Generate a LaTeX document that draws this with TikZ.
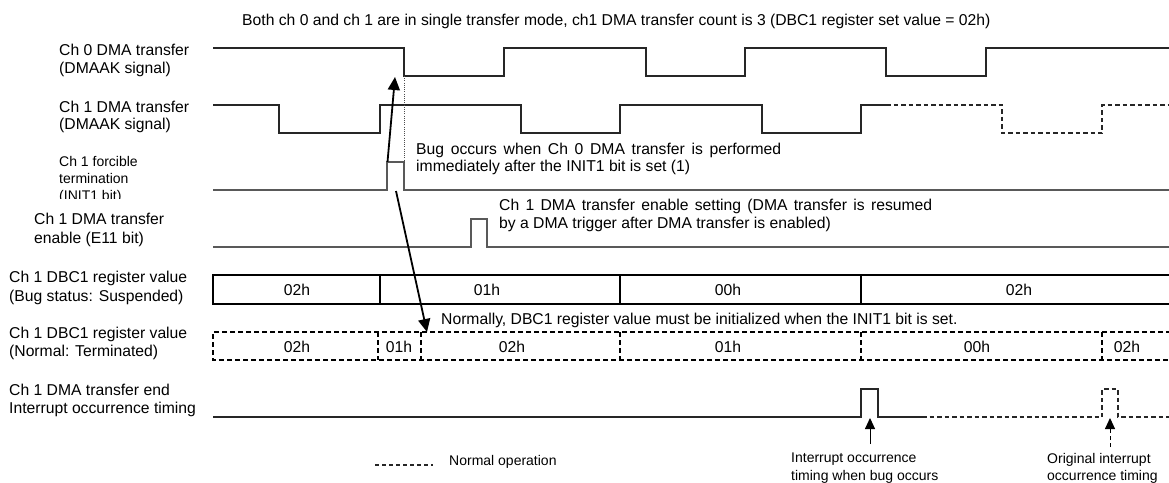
\documentclass[tikz,border=0pt]{standalone}
\usepackage{fontspec}
\setmainfont{Liberation Sans}
\usetikzlibrary{arrows.meta}
\begin{document}
\begin{tikzpicture}[x=1pt,y=-1pt,
  lbl/.style={anchor=north west,inner sep=0pt,align=left,font=\fontsize{15.7}{17.7}\selectfont},
  sml/.style={anchor=north west,inner sep=0pt,align=left,font=\fontsize{14}{17.5}\selectfont},
  val/.style={inner sep=0pt,font=\fontsize{15.7}{18}\selectfont},
  wave/.style={line width=1.2pt,black!85},
  bitline/.style={line width=1.6pt,black!65},
  wavedash/.style={line width=1.1pt,black!85,dash pattern=on 4.5pt off 3pt},
  regbox/.style={line width=1.1pt,black},
  regdash/.style={line width=1.6pt,black,dash pattern=on 5pt off 3pt},
  bigarrow/.style={line width=1.8pt,black,-{Triangle[length=13pt,width=12pt]}},
  smallarrow/.style={line width=1pt,black,-{Triangle[length=11pt,width=10pt]}},
]
\useasboundingbox (0,0) rectangle (1169,482);

% title
\node[lbl,anchor=base west] (title) at (242,25.7) {Both ch 0 and ch 1 are in single transfer mode, ch1 DMA transfer count is 3 (DBC1 register set value = 02h)};

% left labels
\node[lbl] (l0) at (59,44) {Ch 0 DMA transfer\\(DMAAK signal)};
\node[lbl] (l1) at (59,100.6) {Ch 1 DMA transfer\\(DMAAK signal)};
\begin{scope}
\clip (0,150) rectangle (213,198);
\node[sml,font=\fontsize{14}{16.7}\selectfont] (l2) at (59,156.5) {Ch 1 forcible\\termination\\(INIT1 bit)};
\end{scope}
\node[lbl,font=\fontsize{15.7}{18.4}\selectfont] (l3) at (34,213.2) {Ch 1 DMA transfer\\enable (E11 bit)};
\node[lbl,font=\fontsize{15.7}{19.3}\selectfont] (l4) at (9,270.6) {Ch 1 DBC1 register value\\(Bug status: Suspended)};
\node[lbl] (l5) at (9,327.2) {Ch 1 DBC1 register value\\(Normal: Terminated)};
\node[lbl,font=\fontsize{15.7}{18}\selectfont] (l6) at (9,384) {Ch 1 DMA transfer end\\Interrupt occurrence timing};

% Ch 0 waveform
\draw[wave] (213,48) -- (404,48) -- (404,76) -- (504,76) -- (504,48) -- (646,48) -- (646,76) -- (745,76) -- (745,48) -- (886,48) -- (886,76) -- (986,76) -- (986,48) -- (1170,48);
% Ch 1 waveform
\draw[wave] (213,105) -- (279,105) -- (279,133) -- (380,133) -- (380,105) -- (521,105) -- (521,133) -- (620,133) -- (620,105) -- (762,105) -- (762,133) -- (861,133) -- (861,105) -- (886,105);
\draw[wavedash] (886,105) -- (1002,105) -- (1002,133) -- (1102,133) -- (1102,105) -- (1170,105);
% INIT1
\draw[bitline] (213,190) -- (387,190) -- (387,162) -- (404,162) -- (404,190) -- (1170,190);
% E11
\draw[bitline] (213,247) -- (471,247) -- (471,219) -- (487,219) -- (487,247) -- (1170,247);
% dotted guide
\draw[black!70,line width=0.6pt,dash pattern=on 1pt off 1.2pt] (404,76) -- (404,162);

% bug register box
\draw[regbox] (1171,275) -- (213,275) -- (213,304) -- (1171,304);
\draw[regbox] (380,275) -- (380,304) (620,275) -- (620,304) (861,275) -- (861,304);
\node[val] (b1) at (297,290) {02h};
\node[val] (b2) at (487,290) {01h};
\node[val] (b3) at (728,290) {00h};
\node[val] (b4) at (1019,290) {02h};

% normal register box
\draw[regdash] (1171,332) -- (213,332) -- (213,360) -- (1171,360);
\draw[regdash] (378,332) -- (378,360) (421,332) -- (421,360) (620,332) -- (620,360) (861,332) -- (861,360) (1102,332) -- (1102,360);
\node[val] (n1) at (297,347) {02h};
\node[val] (n2) at (399,347) {01h};
\node[val] (n3) at (512,347) {02h};
\node[val] (n4) at (728,347) {01h};
\node[val] (n5) at (977,347) {00h};
\node[val] (n6) at (1127,347) {02h};

% interrupt timing
\draw[wave] (213,417) -- (861,417) -- (861,389) -- (878,389) -- (878,417) -- (922,417);
\draw[wavedash] (922,417) -- (1102,417) -- (1102,389) -- (1118,389) -- (1118,417) -- (1170,417);

% annotations
\node[lbl,anchor=north west] (bugtxt) at (416,142.6) {\makebox[365pt][s]{Bug occurs when Ch 0 DMA transfer is performed}\\immediately after the INIT1 bit is set (1)};
\node[lbl,anchor=north west] (entxt) at (499,199.2) {\makebox[433pt][s]{Ch 1 DMA transfer enable setting (DMA transfer is resumed}\\by a DMA trigger after DMA transfer is enabled)};
\node[lbl,anchor=base west] (normtxt) at (441,324.7) {Normally, DBC1 register value must be initialized when the INIT1 bit is set.};

% big arrows
\coordinate (a1s) at (387.5,162);
\coordinate (a1e) at (395,77);
\coordinate (a2s) at (396,191);
\coordinate (a2e) at (427,332);
\draw[bigarrow] (a1s) -- (a1e);
\draw[bigarrow] (a2s) -- (a2e);

% interrupt arrows
\coordinate (i1s) at (870,444);
\coordinate (i1e) at (870,418);
\coordinate (i2s) at (1110,447);
\coordinate (i2e) at (1110,418);
\draw[smallarrow] (i1s) -- (i1e);
\draw[smallarrow,dash pattern=on 4pt off 3pt] (i2s) -- (i2e);

\node[sml] (intbug) at (791,453) {Interrupt occurrence\\timing when bug occurs};
\node[sml] (intorg) at (1047,453) {Original interrupt\\occurrence timing};

% legend
\coordinate (lg1) at (375,465);
\coordinate (lg2) at (433,465);
\draw[wavedash,dash pattern=on 4pt off 3pt] (lg1) -- (lg2);
\node[sml,anchor=base west] (legtxt) at (449,465) {Normal operation};
\end{tikzpicture}
\end{document}
